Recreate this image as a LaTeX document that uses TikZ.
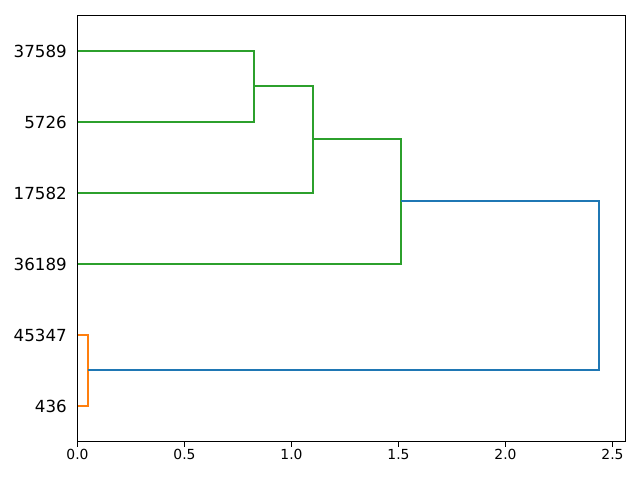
\documentclass[tikz,border=0pt]{standalone}
\usepackage{fontspec}
\setmainfont{DejaVu Sans}
\definecolor{mplblue}{HTML}{1F77B4}
\definecolor{mplorange}{HTML}{FF7F0E}
\definecolor{mplgreen}{HTML}{2CA02C}
\tikzset{
  link/.style={line width=1.5pt},
  spine/.style={line width=0.8pt, line cap=rect},
  ylab/.style={anchor=east, inner sep=0pt, font=\fontsize{12.5}{15}\selectfont},
  xlab/.style={anchor=north, inner sep=0pt, font=\fontsize{10.4}{12}\selectfont},
  xtick/.style={line width=0.8pt}
}
\begin{document}
\begin{tikzpicture}[x=0.75pt,y=-0.75pt]
\useasboundingbox (0,0) rectangle (640,480);
% axes frame
\coordinate (tl) at (77.5,15.5);
\coordinate (br) at (625.5,441.5);
% leaves
\coordinate (l1) at (77,51);
\coordinate (l2) at (77,122);
\coordinate (l3) at (77,193);
\coordinate (l4) at (77,264);
\coordinate (l5) at (77,335);
\coordinate (l6) at (77,406);
% merges
\coordinate (m1a) at (254,51);  \coordinate (m1b) at (254,122);
\coordinate (m1) at (254,86);
\coordinate (m2a) at (313,86); \coordinate (m2b) at (313,193);
\coordinate (m2) at (313,139);
\coordinate (m3a) at (401,139); \coordinate (m3b) at (401,264);
\coordinate (m3) at (401,201);
\coordinate (m4a) at (88,335); \coordinate (m4b) at (88,406);
\coordinate (m4) at (88,370);
\coordinate (m5a) at (599,201); \coordinate (m5b) at (599,370);
% green links
\draw[link, mplgreen] (l1) -- (m1a) -- (m1b) -- (l2);
\draw[link, mplgreen] (m1) -- (m2a) -- (m2b) -- (l3);
\draw[link, mplgreen] (m2) -- (m3a) -- (m3b) -- (l4);
% orange
\draw[link, mplorange] (l5) -- (m4a) -- (m4b) -- (l6);
% blue
\draw[link, mplblue] (m3) -- (m5a) -- (m5b) -- (m4);
% frame
\draw[spine] (tl) rectangle (br);
% y labels
\node[ylab] (t1) at (67,51) {37589};
\node[ylab] (t2) at (67,122) {5726};
\node[ylab] (t3) at (67,193) {17582};
\node[ylab] (t4) at (67,264) {36189};
\node[ylab] (t5) at (67,335) {45347};
\node[ylab] (t6) at (67,406) {436};
% x ticks
\foreach \v/\px/\nm in {0.0/77.5/a,0.5/184.5/b,1.0/291.5/c,1.5/398.5/d,2.0/505.5/e,2.5/612.5/f}{
  \coordinate (xt\nm) at (\px,441.5);
  \draw[xtick] (xt\nm) -- ++(0,5);
  \node[xlab] (xl\nm) at (\px,449) {\v};
}
\end{tikzpicture}
\end{document}
